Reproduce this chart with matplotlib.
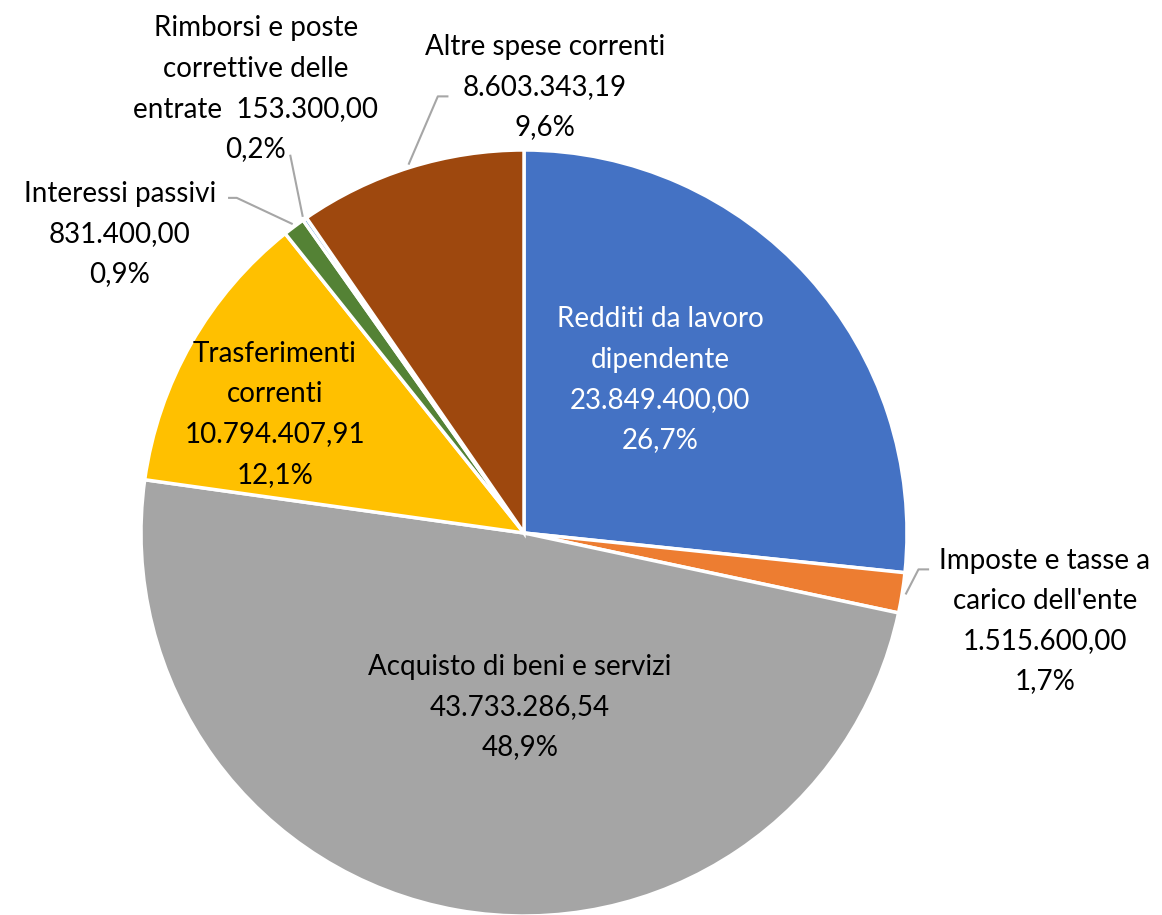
import matplotlib.pyplot as plt
import numpy as np

plt.rcParams['font.family'] = ['Lato', 'DejaVu Sans']

categorie = ['Redditi da lavoro dipendente', "Imposte e tasse a carico dell'ente",
             'Acquisto di beni e servizi', 'Trasferimenti correnti',
             'Interessi passivi', 'Rimborsi e poste correttive delle entrate',
             'Altre spese correnti']
valori = [23849400.00, 1515600.00, 43733286.54, 10794407.91,
          831400.00, 153300.00, 8603343.19]
etichette = ['Redditi da lavoro\ndipendente\n23.849.400,00\n26,7%',
             "Imposte e tasse a\ncarico dell'ente\n1.515.600,00\n1,7%",
             'Acquisto di beni e servizi\n43.733.286,54\n48,9%',
             'Trasferimenti\ncorrenti\n10.794.407,91\n12,1%',
             'Interessi passivi\n831.400,00\n0,9%',
             'Rimborsi e poste\ncorrettive delle\nentrate  153.300,00\n0,2%',
             'Altre spese correnti\n8.603.343,19\n9,6%']
colori = ['#4472C4', '#ED7D31', '#A5A5A5', '#FFC000', '#548235', '#5B9BD5', '#9E480E']

fig = plt.figure(figsize=(11.62, 9.15), dpi=100)
ax = fig.add_axes([0, 0, 1, 1])

wedges, _ = ax.pie(valori, colors=colori, startangle=90, counterclock=False,
                   radius=1, wedgeprops=dict(edgecolor='white', linewidth=2.5))
ax.set_xlim(-524 / 383, (1162 - 524) / 383)
ax.set_ylim(-(915 - 533) / 383, 533 / 383)
ax.axis('off')

# label positions (data coords, pie radius = 1)
pos = [(0.355, 0.40), (1.36, -0.23), (-0.01, -0.455), (-0.65, 0.31),
       (-1.055, 0.78), (-0.70, 1.16), (0.055, 1.165)]
colori_testo = ['white', 'black', 'black', 'black', 'black', 'black', 'black']
for lab, (x, y), c in zip(etichette, pos, colori_testo):
    ax.text(x, y, lab, ha='center', va='center', fontsize=20, color=c,
            linespacing=1.68)

# leader lines for the outside labels
def bordo(i, r=1.0):
    w = wedges[i]
    a = np.deg2rad((w.theta1 + w.theta2) / 2)
    return r * np.cos(a), r * np.sin(a)

grigio = '#A6A6A6'
x0, y0 = bordo(1, 1.01)
ax.plot([x0, 1.03, 1.055], [y0, -0.095, -0.095], color=grigio, lw=1.5)
x0, y0 = bordo(4, 1.01)
ax.plot([x0, -0.75, -0.77], [y0, 0.875, 0.875], color=grigio, lw=1.5)
x0, y0 = bordo(5, 1.01)
ax.plot([x0, -0.61, -0.61], [y0, 0.985, 0.985], color=grigio, lw=1.5)
x0, y0 = bordo(6, 1.01)
ax.plot([x0, -0.225, -0.2], [y0, 1.14, 1.14], color=grigio, lw=1.5)

fig.savefig('out.png', dpi=100)
